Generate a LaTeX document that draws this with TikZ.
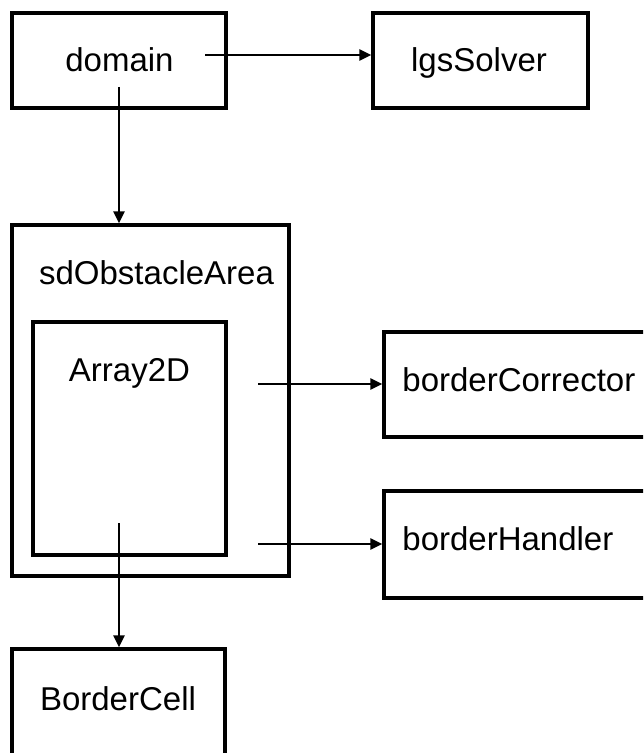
\documentclass[tikz,border=0pt]{standalone}
\usepackage{fontspec}
\setmainfont{Liberation Sans}
\usetikzlibrary{arrows.meta}

\tikzset{
    box/.style={draw, line width=1.7pt, rectangle, inner sep=0pt},
    boxtext/.style={inner sep=0pt, anchor=base},
    arr/.style={line width=1.25pt, -{Triangle[length=6pt,width=5.5pt]}}
}

\begin{document}
\begin{tikzpicture}[x=0.5pt, y=-0.5pt, font=\fontsize{16.5}{20}\selectfont]
        % Page frame
        \fill[white] (0,0) rectangle (643,753);
        \useasboundingbox (0,0) rectangle (643,753);
        \clip (0,0) rectangle (643,753);

        % Top row
        \node[box, minimum width=107pt, minimum height=47.5pt] (domain) at (119,60.5) {};
        \node[boxtext] (domain-txt) at (119.5,72) {domain};
        \node[box, minimum width=107.5pt, minimum height=47.5pt] (lgsSolver) at (480.5,60.5) {};
        \node[boxtext] (lgsSolver-txt) at (479,72) {lgsSolver};

        % Obstacle area with the array inside
        \node[box, minimum width=138.5pt, minimum height=175.5pt] (area) at (150.5,400.5) {};
        \node[boxtext] (area-txt) at (156.5,285) {sdObstacleArea};
        \node[box, minimum width=96.5pt, minimum height=116.5pt] (array) at (129.5,438.5) {};
        \node[boxtext] (array-txt) at (129.5,381) {Array2D};

        % Border objects (running off the right side)
        \node[box, minimum width=140pt, minimum height=52.5pt] (corrector) at (524,384.5) {};
        \node[boxtext, anchor=base west] (corrector-txt) at (402,391) {borderCorrector};
        \node[box, minimum width=140pt, minimum height=53.5pt] (handler) at (524,544.5) {};
        \node[boxtext, anchor=base west] (handler-txt) at (402,550) {borderHandler};

        % Cell at the bottom
        \node[box, minimum width=106.5pt, minimum height=58pt] (cell) at (118.5,707) {};
        \node[boxtext] (cell-txt) at (118,710) {BorderCell};

        % Arrow start points
        \coordinate (domain-right) at (205,55);
        \coordinate (domain-down) at (119,87);
        \coordinate (array-right1) at (258,384);
        \coordinate (array-right2) at (258,544);
        \coordinate (array-down) at (119,523);

        % Arrows
        \draw[arr] (domain-right) -- (domain-right -| lgsSolver.west);
        \draw[arr] (domain-down) -- (domain-down |- area.north);
        \draw[arr] (array-right1) -- (array-right1 -| corrector.west);
        \draw[arr] (array-right2) -- (array-right2 -| handler.west);
        \draw[arr] (array-down) -- (array-down |- cell.north);
    \end{tikzpicture}
\end{document}
